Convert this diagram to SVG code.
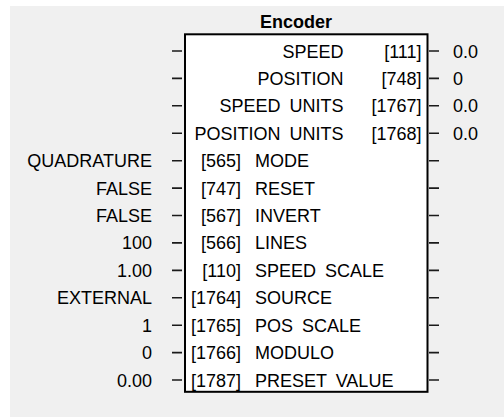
<svg xmlns="http://www.w3.org/2000/svg" width="504" height="417" viewBox="0 0 504 417">
<style>
text{font-family:"Liberation Sans",Arial,sans-serif;font-size:18px;fill:#000;word-spacing:4px}
.t{font-weight:bold;text-anchor:middle}
.e{text-anchor:end}
.tk{stroke:#1a1a1a;stroke-width:1.6}
</style>
<rect x="10" y="6" width="494" height="411" fill="#f0f0f0"/>
<g id="connectors">
<path class="tk" d="M172 51H182M172 78.4H182M172 105.8H182M172 133.3H182M172 160.7H182M172 188.1H182M172 215.5H182M172 242.9H182M172 270.4H182M172 297.8H182M172 325.2H182M172 352.6H182M172 380H182"/>
<path class="tk" d="M429 51H439M429 78.4H439M429 105.8H439M429 133.3H439M429 160.7H439M429 188.1H439M429 215.5H439M429 242.9H439M429 270.4H439M429 297.8H439M429 325.2H439M429 352.6H439M429 380H439"/>
</g>
<g id="encoder">
<text class="t" x="296" y="28">Encoder</text>
<rect x="185" y="34.3" width="242.5" height="357.5" fill="#fff" stroke="#000" stroke-width="2"/>
<text class="e" x="343.5" y="57.5">SPEED</text><text class="e" x="421.5" y="57.5">[111]</text><text x="453" y="57.5">0.0</text>
<text class="e" x="343.5" y="84.9">POSITION</text><text class="e" x="421.5" y="84.9">[748]</text><text x="453" y="84.9">0</text>
<text class="e" x="343.5" y="112.3">SPEED UNITS</text><text class="e" x="421.5" y="112.3">[1767]</text><text x="453" y="112.3">0.0</text>
<text class="e" x="343.5" y="139.8">POSITION UNITS</text><text class="e" x="421.5" y="139.8">[1768]</text><text x="453" y="139.8">0.0</text>
<text class="e" x="152" y="167.2">QUADRATURE</text><text class="e" x="241" y="167.2">[565]</text><text x="255" y="167.2">MODE</text>
<text class="e" x="152" y="194.6">FALSE</text><text class="e" x="241" y="194.6">[747]</text><text x="255" y="194.6">RESET</text>
<text class="e" x="152" y="222">FALSE</text><text class="e" x="241" y="222">[567]</text><text x="255" y="222">INVERT</text>
<text class="e" x="152" y="249.4">100</text><text class="e" x="241" y="249.4">[566]</text><text x="255" y="249.4">LINES</text>
<text class="e" x="152" y="276.9">1.00</text><text class="e" x="241" y="276.9">[110]</text><text x="255" y="276.9">SPEED SCALE</text>
<text class="e" x="152" y="304.3">EXTERNAL</text><text class="e" x="241" y="304.3">[1764]</text><text x="255" y="304.3">SOURCE</text>
<text class="e" x="152" y="331.7">1</text><text class="e" x="241" y="331.7">[1765]</text><text x="255" y="331.7">POS SCALE</text>
<text class="e" x="152" y="359.1">0</text><text class="e" x="241" y="359.1">[1766]</text><text x="255" y="359.1">MODULO</text>
<text class="e" x="152" y="386.5">0.00</text><text class="e" x="241" y="386.5">[1787]</text><text x="255" y="386.5">PRESET VALUE</text>
</g>
</svg>
